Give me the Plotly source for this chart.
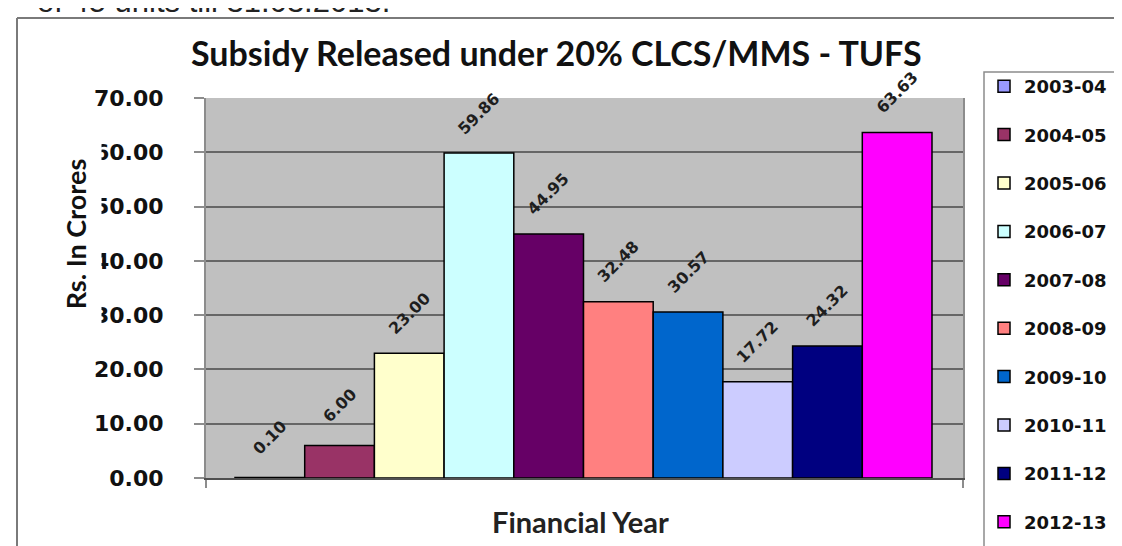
import plotly.graph_objects as go

# ---- data ----
years = ["2003-04", "2004-05", "2005-06", "2006-07", "2007-08",
         "2008-09", "2009-10", "2010-11", "2011-12", "2012-13"]
subsidy = [0.10, 6.00, 23.00, 59.86, 44.95, 32.48, 30.57, 17.72, 24.32, 63.63]
colors = ["#9999FF", "#993366", "#FFFFCC", "#CCFFFF", "#660066",
          "#FF8080", "#0066CC", "#CCCCFF", "#000080", "#FF00FF"]
y_ticks = [0, 10, 20, 30, 40, 50, 60, 70]

W, H = 1122, 546
L, R, T, B = 198, 955, 90, 470  # plot area in pixels
PW, PH = R - L, B - T


def px(x):
    return (x - L) / PW


def py(y):
    return 1 - (y - T) / PH


FONT = "DejaVu Sans"
TFONT = "Lato"

fig = go.Figure()
for i, (yr, v, c) in enumerate(zip(years, subsidy, colors)):
    fig.add_trace(go.Bar(
        x=[i], y=[v], name=yr, width=1,
        marker=dict(color=c, line=dict(color="black", width=1.5)),
        legendgroup=yr, showlegend=True,
        hovertemplate=yr + ": %{y:.2f}<extra></extra>",
    ))
    fig.add_annotation(
        x=i, y=v, xref="x", yref="y", text=f"<b>{v:.2f}</b>", showarrow=False,
        textangle=-45, yshift=40, xanchor="center", yanchor="middle",
        font=dict(family=FONT, size=16, color="#1e1e1e"),
    )

bar_w = 69.7
x_lo = -0.5 - (227 - L) / bar_w
x_hi = 9.5 + (R - 924) / bar_w

fig.update_layout(
    width=W, height=H,
    margin=dict(l=L, r=W - R, t=T, b=H - B, pad=0),
    paper_bgcolor="white", plot_bgcolor="#C0C0C0",
    barmode="overlay",
    showlegend=True,
    legend=dict(
        x=px(976), y=py(60), xanchor="left", yanchor="top",
        bgcolor="rgba(0,0,0,0)", borderwidth=0,
        font=dict(family=FONT, size=18, color="#111111", weight="bold"),
        tracegroupgap=22, traceorder="grouped", itemwidth=30,
        maxheight=520,
        itemclick=False, itemdoubleclick=False,
    ),
    xaxis=dict(
        range=[x_lo, x_hi], showticklabels=False, showgrid=False,
        zeroline=False, showline=True, linecolor="#505050", linewidth=2,
        ticks="outside", tickvals=[x_lo, x_hi], ticklen=8,
        tickcolor="#8c8c8c", tickwidth=2, fixedrange=True,
    ),
    yaxis=dict(
        range=[0, 70], tickvals=y_ticks, tickformat=".2f",
        ticks="outside", ticklen=10, tickcolor="#8c8c8c", tickwidth=2,
        showgrid=True, gridcolor="#666666", gridwidth=1.5,
        zeroline=False, showline=True, linecolor="#8c8c8c", linewidth=2,
        mirror=True, ticklabelstandoff=26,
        tickfont=dict(family=FONT, size=22, color="#111111", weight="bold"),
        fixedrange=True,
    ),
)

# legend frame
fig.add_shape(type="rect", xref="paper", yref="paper", layer="below",
              x0=px(976), x1=px(1118), y0=py(64), y1=py(545),
              fillcolor="white", line=dict(color="#8c8c8c", width=1.5))

# title
fig.add_annotation(
    x=px(548), y=py(45), xref="paper", yref="paper",
    text="<b>Subsidy Released under 20% CLCS/MMS - TUFS</b>",
    showarrow=False, xanchor="center", yanchor="middle",
    font=dict(family=TFONT, size=34, color="#111111"),
)
# axis titles (its white box sits over the left edge of some tick labels,
# as in the original)
fig.add_annotation(
    x=px(67), y=py(226), xref="paper", yref="paper",
    text="<b>Rs. In Crores</b>", textangle=-90, showarrow=False,
    xanchor="center", yanchor="middle", bgcolor="white",
    width=190, height=50,
    font=dict(family=TFONT, size=27, color="#111111"),
)
fig.add_annotation(
    x=px(572), y=py(513), xref="paper", yref="paper",
    text="<b>Financial Year</b>", showarrow=False,
    xanchor="center", yanchor="middle",
    font=dict(family=TFONT, size=29, color="#222222"),
)
# clipped document text at the very top
fig.add_annotation(
    x=px(27), y=py(-7), xref="paper", yref="paper",
    text="of 45 units till 31.03.2013.", showarrow=False,
    xanchor="left", yanchor="middle",
    font=dict(family="Liberation Sans", size=31, color="#222222"),
)
# outer frame of the embedded chart
fig.add_shape(type="line", xref="paper", yref="paper",
              x0=px(9), x1=px(W + 5), y0=py(10), y1=py(10),
              line=dict(color="#7a7a7a", width=2))
fig.add_shape(type="line", xref="paper", yref="paper",
              x0=px(9), x1=px(9), y0=py(10), y1=py(H + 5),
              line=dict(color="#7a7a7a", width=2))

fig.write_html("out.html", config={"displayModeBar": False})
